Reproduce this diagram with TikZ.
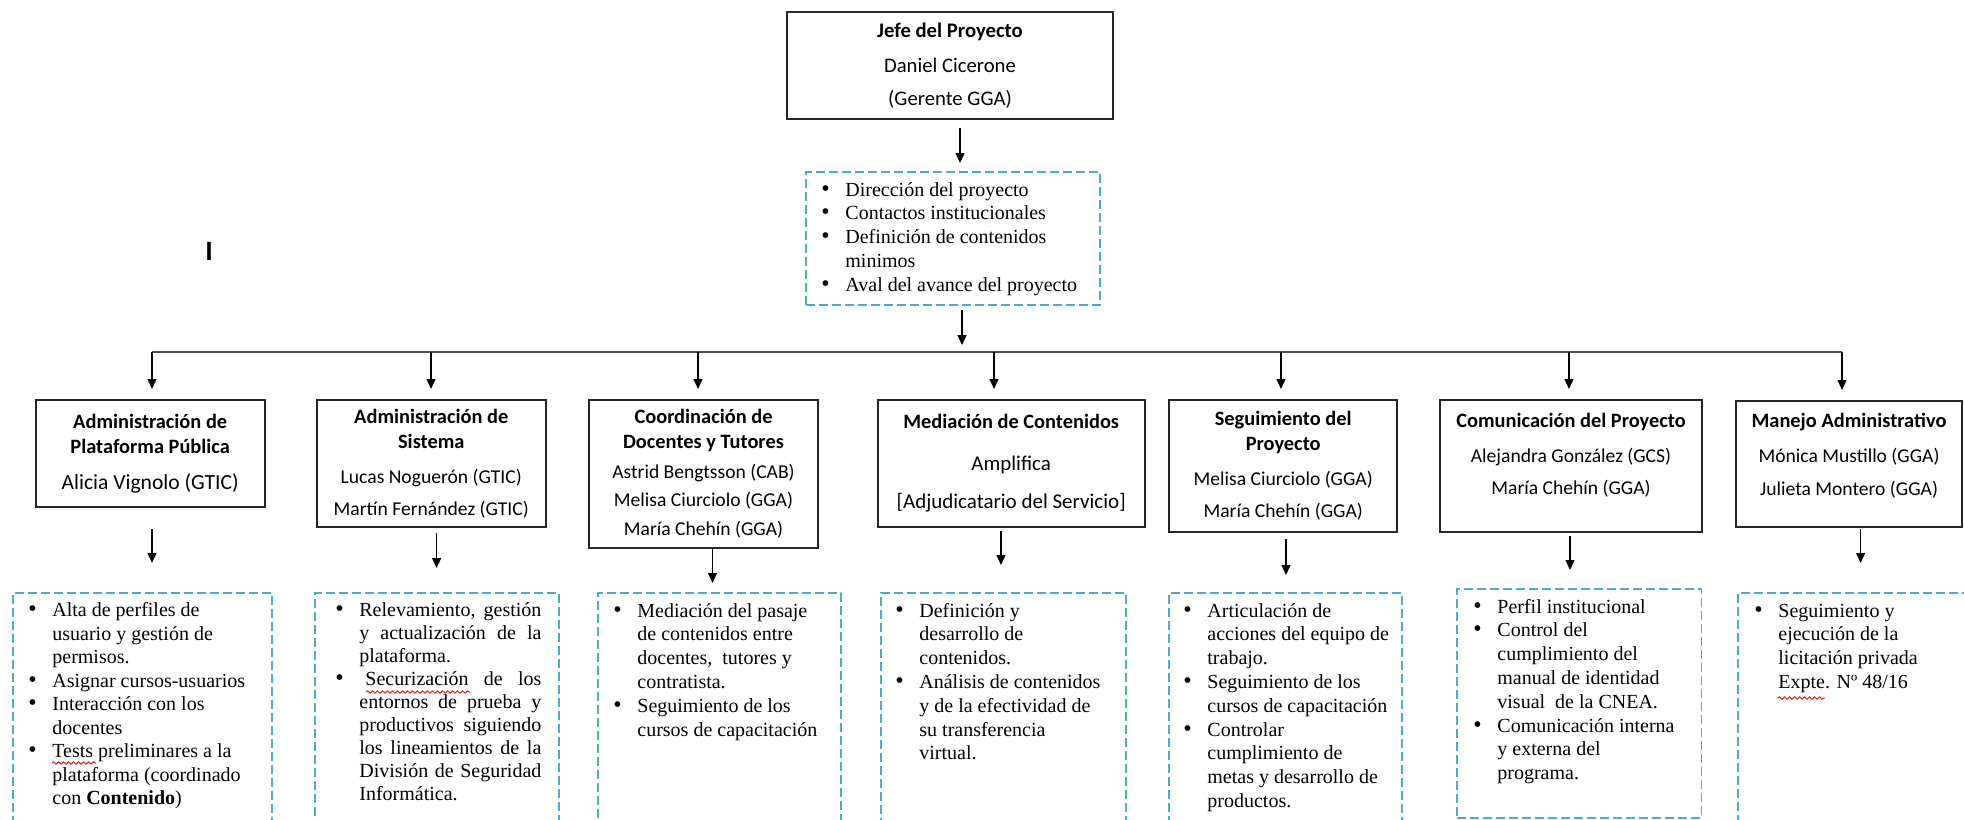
\documentclass[tikz,border=0pt]{standalone}
\usepackage{fontspec}
\setmainfont{Liberation Serif}
\newfontfamily\calibri{Carlito}
\usetikzlibrary{arrows.meta}
\usetikzlibrary{decorations.pathmorphing}

\definecolor{aqua}{RGB}{75,172,198}
\definecolor{subrayado}{RGB}{225,35,35}

\newcommand{\titulo}[1]{{\fontsize{10.2}{12.5}\selectfont\bfseries #1}}
\newcommand{\vin}{{\fontsize{12}{12}\selectfont\textbullet}}
\newcommand{\jst}[1]{\makebox[91pt][s]{#1}}

\begin{document}
\begin{tikzpicture}[x=0.5pt,y=-0.5pt,
    caja/.style={draw=black!85,line width=1pt,inner sep=0pt,align=center,
      font=\calibri\fontsize{9.8}{12.5}\selectfont},
    lista/.style={draw=aqua,line width=0.75pt,dash pattern=on 4.5pt off 2pt,
      anchor=north west,inner sep=0pt},
    texto/.style={anchor=north west,inner sep=0pt,font=\fontsize{10}{11.9}\selectfont},
    flecha/.style={line width=0.65pt,-{Triangle[length=5pt,width=4.5pt]}}]
  \useasboundingbox (0,0) rectangle (1964,819);

  \coordinate (B0) at (962,352);
  \coordinate (B1) at (152,352);
  \coordinate (B2) at (431,352);
  \coordinate (B3) at (698,352);
  \coordinate (B4) at (994,352);
  \coordinate (B5) at (1281,352);
  \coordinate (B6) at (1569,352);
  \coordinate (B7) at (1842,352);

  % jefe del proyecto
  \node[caja,minimum width=163pt,minimum height=53.5pt,
        font=\calibri\fontsize{10.35}{12.5}\selectfont] (jefe) at (950,65.5)
    {\textbf{Jefe del Proyecto}\\[5pt]Daniel Cicerone\\[4pt](Gerente GGA)};
  \node[lista,minimum width=147pt,minimum height=66.5pt] (dir) at (805,171) {};
  \node[texto] (tdir) at ([xshift=8pt,yshift=-4pt]dir.north west)
    {\begin{tabular}{@{}p{12pt}@{}l@{}}
     \vin & Dirección del proyecto\\
     \vin & Contactos institucionales\\
     \vin & Definición de contenidos\\
          & minimos\\
     \vin & Aval del avance del proyecto
     \end{tabular}};

  \node[font=\calibri\bfseries\fontsize{14}{14}\selectfont,inner sep=0pt] (marca) at (209,251) {I};

  \draw[flecha,shorten <=4pt,shorten >=4pt] (jefe.south -| 960,0) -- (dir.north -| 960,0);
  \draw[flecha,shorten <=2pt,shorten >=3.5pt] (dir.south -| B0) -- (B0);
  \draw[line width=1.3pt,black!70] (B1) -- (B7);

  % areas
  \node[caja,minimum width=114.5pt,minimum height=53.5pt] (caja1) at (150.2,453.5)
    {\titulo{Administración de}\\\titulo{Plataforma Pública}\\[5.5pt]{\fontsize{10.8}{12.5}\selectfont Alicia Vignolo (GTIC)}};
  \node[caja,minimum width=114.25pt,minimum height=63.5pt] (caja2) at (431.25,463.5)
    {\titulo{Administración de}\\\titulo{Sistema}\\[5pt]Lucas Noguerón (GTIC)\\[3.5pt]Martín Fernández (GTIC)};
  \node[caja,minimum width=114.5pt,minimum height=74pt] (caja3) at (703.5,474)
    {\titulo{Coordinación de}\\\titulo{Docentes y Tutores}\\[2.5pt]Astrid Bengtsson (CAB)\\[1.5pt]Melisa Ciurciolo (GGA)\\[2pt]María Chehín (GGA)};
  \node[caja,minimum width=133.5pt,minimum height=63.5pt,
        font=\calibri\fontsize{10.5}{12.5}\selectfont] (caja4) at (1011.2,463.5)
    {\titulo{Mediación de Contenidos}\\[8.5pt]Amplifica\\[6.5pt]{[Adjudicatario del Servicio]}};
  \node[caja,minimum width=114.25pt,minimum height=66pt] (caja5) at (1283.2,466)
    {\titulo{Seguimiento del}\\\titulo{Proyecto}\\[5pt]Melisa Ciurciolo (GGA)\\[3.5pt]María Chehín (GGA)};
  \node[caja,minimum width=131pt,minimum height=66pt] (caja6) at (1571,466)
    {\titulo{Comunicación del Proyecto}\\[5pt]Alejandra González (GCS)\\[3.5pt]María Chehín (GGA)\\\mbox{}};
  \node[caja,minimum width=113pt,minimum height=63pt] (caja7) at (1849,464)
    {\titulo{Manejo Administrativo}\\[5pt]Mónica Mustillo (GGA)\\[4pt]Julieta Montero (GGA)\\[-3pt]\mbox{}};

  \foreach \i in {1,...,7}
    \draw[flecha,shorten >=5pt] (B\i) -- (B\i |- caja\i.north);

  % tareas
  \foreach \n/\x/\y/\w/\h in {1/12/592/129.5pt/130pt, 2/314/592/122pt/130pt,
      3/597/592/121.5pt/130pt, 4/880/592/122.5pt/130pt, 5/1168/592/116.5pt/130pt,
      6/1456/588/122.25pt/114.5pt, 7/1737/592/120pt/130pt}
    \node[lista,minimum width=\w,minimum height=\h] (lista\n) at (\x,\y) {};

  \foreach \i/\ax/\sa/\sb in {1/152/10.5pt/14.5pt, 2/436.6/2.5pt/12pt, 3/712.5/0pt/4.5pt,
      4/1001/1.5pt/13.5pt, 5/1286/3pt/8.5pt, 6/1570/1.5pt/9pt, 7/1860.6/0.5pt/14.5pt}
  {
    \coordinate (c\i) at (\ax,0);
    \draw[flecha,shorten <=\sa,shorten >=\sb] (caja\i.south -| c\i) -- (lista\i.north -| c\i);
  }

  \node[texto,font=\fontsize{10}{11.75}\selectfont] (tarea1) at ([xshift=8pt,yshift=-4pt]lista1.north west)
    {\begin{tabular}{@{}p{12pt}@{}l@{}}
     \vin & Alta de perfiles de\\
          & usuario y gestión de\\
          & permisos.\\
     \vin & Asignar cursos-usuarios\\
     \vin & Interacción con los\\
          & docentes\\
     \vin & Tests preliminares a la\\
          & plataforma (coordinado\\
          & con \textbf{Contenido})
     \end{tabular}};
  \node[texto,font=\fontsize{10}{11.5}\selectfont] (tarea2) at ([xshift=10.5pt,yshift=-4pt]lista2.north west)
    {\begin{tabular}{@{}p{12pt}@{}l@{}}
     \vin & \jst{Relevamiento, gestión}\\
          & \jst{y actualización de la}\\
          & plataforma.\\
     \vin & \jst{\hspace{3pt}Securización de los}\\
          & \jst{entornos de prueba y}\\
          & \jst{productivos siguiendo}\\
          & \jst{los lineamientos de la}\\
          & \jst{División de Seguridad}\\
          & Informática.
     \end{tabular}};
  \node[texto] (tarea3) at ([xshift=8pt,yshift=-4pt]lista3.north west)
    {\begin{tabular}{@{}p{12pt}@{}l@{}}
     \vin & Mediación del pasaje\\
          & de contenidos entre\\
          & docentes,\ \ tutores y\\
          & contratista.\\
     \vin & Seguimiento de los\\
          & cursos de capacitación
     \end{tabular}};
  \node[texto] (tarea4) at ([xshift=7.5pt,yshift=-4pt]lista4.north west)
    {\begin{tabular}{@{}p{12pt}@{}l@{}}
     \vin & Definición y\\
          & desarrollo de\\
          & contenidos.\\
     \vin & Análisis de contenidos\\
          & y de la efectividad\ de\\
          & su transferencia\\
          & virtual.
     \end{tabular}};
  \node[texto] (tarea5) at ([xshift=7.5pt,yshift=-4pt]lista5.north west)
    {\begin{tabular}{@{}p{12pt}@{}l@{}}
     \vin & Articulación de\\
          & acciones del equipo de\\
          & trabajo.\\
     \vin & Seguimiento de los\\
          & cursos de capacitación\\
     \vin & Controlar\\
          & cumplimiento de\\
          & metas y desarrollo de\\
          & productos.
     \end{tabular}};
  \node[texto] (tarea6) at ([xshift=8.5pt,yshift=-4pt]lista6.north west)
    {\begin{tabular}{@{}p{12pt}@{}l@{}}
     \vin & Perfil institucional\\
     \vin & Control del\\
          & cumplimiento del\\
          & manual de identidad\\
          & visual\ \ de la CNEA.\\
     \vin & Comunicación interna\\
          & y externa del\\
          & programa.
     \end{tabular}};
  \node[texto] (tarea7) at ([xshift=8.5pt,yshift=-4pt]lista7.north west)
    {\begin{tabular}{@{}p{12pt}@{}l@{}}
     \vin & Seguimiento y\\
          & ejecución de la\\
          & licitación\ privada\\
          & Expte. Nº 48/16
     \end{tabular}};

  % subrayado ondulado
  \draw[subrayado,line width=0.5pt,decorate,decoration={snake,amplitude=0.6pt,segment length=2.5pt}]
    (52,763) -- (96,763);
  \draw[subrayado,line width=0.5pt,decorate,decoration={snake,amplitude=0.6pt,segment length=2.5pt}]
    (366,692) -- (470,692);
  \draw[subrayado,line width=0.5pt,decorate,decoration={snake,amplitude=0.6pt,segment length=2.5pt}]
    (1778,698) -- (1825,698);
\end{tikzpicture}
\end{document}
